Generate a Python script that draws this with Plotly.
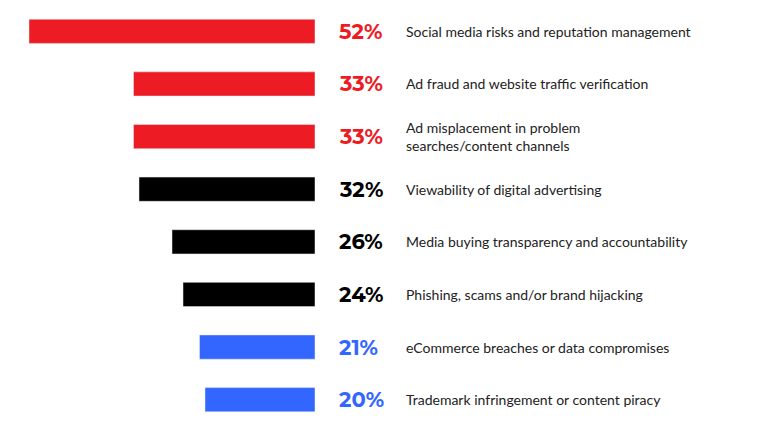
import plotly.graph_objects as go

categories = ["Social media risks and reputation management",
              "Ad fraud and website traffic verification",
              "Ad misplacement in problem<br>searches/content channels",
              "Viewability of digital advertising",
              "Media buying transparency and accountability",
              "Phishing, scams and/or brand hijacking",
              "eCommerce breaches or data compromises",
              "Trademark infringement or content piracy"]
values = [52, 33, 33, 32, 26, 24, 21, 20]
colors = ["#ED1C24"]*3 + ["#000000"]*3 + ["#3366FF"]*2

idx = list(range(len(values)))
fig = go.Figure(go.Bar(x=values, y=idx, orientation="h", marker_color=colors,
                       width=0.46, hoverinfo="skip"))
ann = []
for i, v, c, t in zip(idx, values, colors, categories):
    ann.append(dict(x=329/768, y=i, xref="paper", yref="y", text=f"<b>{v}%</b>",
                    showarrow=False, xanchor="left", font=dict(size=21, color=c, family="Montserrat, Lato, sans-serif")))
    ann.append(dict(x=396/768, y=i, xref="paper", yref="y", text=t, align="left",
                    showarrow=False, xanchor="left", font=dict(size=14, color="#222", family="Lato, sans-serif")))
shift = 8/52.7
fig.update_layout(width=768, height=432, margin=dict(l=0, r=0, t=5, b=6),
                  plot_bgcolor="white", paper_bgcolor="white", showlegend=False,
                  annotations=ann,
                  xaxis=dict(domain=[0, 307/768], range=[307/5.5, 0], visible=False),
                  yaxis=dict(range=[7.5 + shift, -0.5 + shift], visible=False))
fig.write_html("out.html")
